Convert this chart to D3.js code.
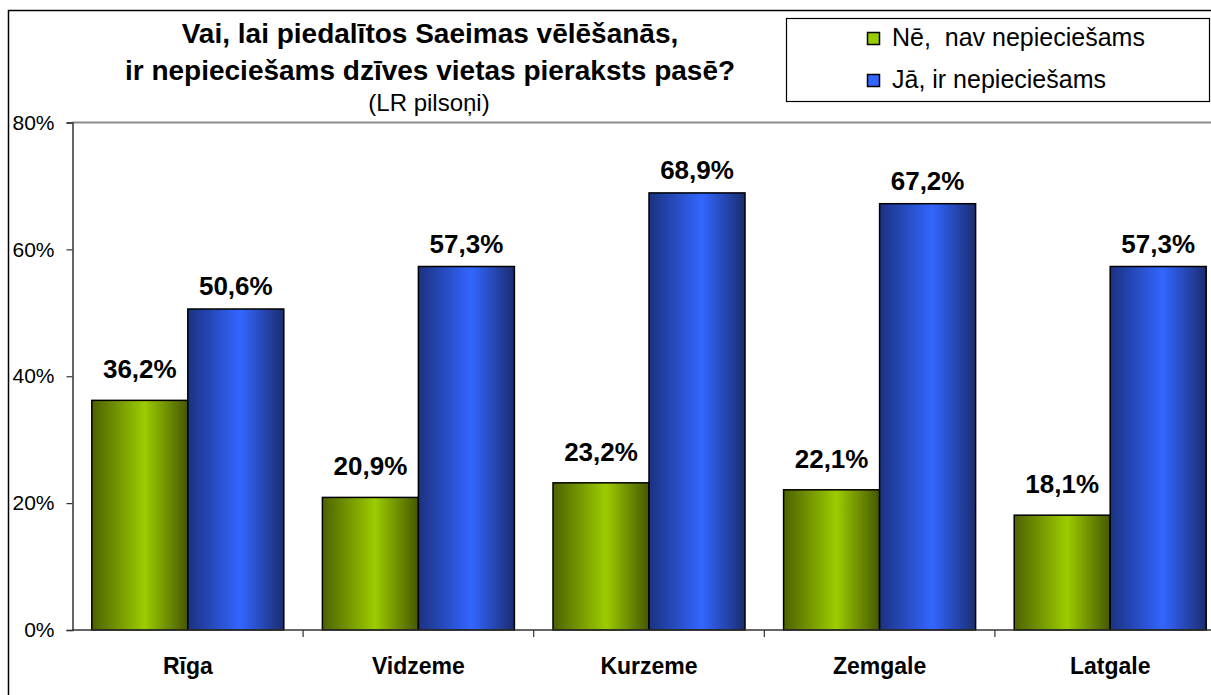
<!DOCTYPE html>
<html>
<head>
<meta charset="utf-8">
<script src="https://cdn.jsdelivr.net/npm/d3@7"></script>
<style>
  html, body { margin: 0; padding: 0; background: #fff; }
  svg text { font-family: "Liberation Sans", Arial, sans-serif; fill: #000; }
</style>
</head>
<body>
<div id="chart"></div>
<script>
// Chart data
const categories = ["Rīga", "Vidzeme", "Kurzeme", "Zemgale", "Latgale"];
const seriesNames = ["Nē,  nav nepieciešams", "Jā, ir nepieciešams"];
const neValues = [36.2, 20.9, 23.2, 22.1, 18.1];
const jaValues = [50.6, 57.3, 68.9, 67.2, 57.3];
const yTicks = [0, 20, 40, 60, 80];
const titleLines = ["Vai, lai piedalītos Saeimas vēlēšanās,", "ir nepieciešams dzīves vietas pieraksts pasē?"];
const subtitle = "(LR pilsoņi)";

const width = 1211;
const height = 695;
const plot = { left: 72.5, top: 122.5, bottom: 630, band: 230.6 };

const svg = d3.select("#chart")
    .append("svg")
    .attr("width", width)
    .attr("height", height);

// Gradients for the bars
const defs = svg.append("defs");
function addGradient(id, edgeL, mid, edgeR) {
    const grad = defs.append("linearGradient")
        .attr("id", id)
        .attr("x1", "0%").attr("x2", "100%")
        .attr("y1", "0%").attr("y2", "0%");
    grad.append("stop").attr("offset", "0%").attr("stop-color", edgeL);
    grad.append("stop").attr("offset", "55%").attr("stop-color", mid);
    grad.append("stop").attr("offset", "100%").attr("stop-color", edgeR);
}
addGradient("gradGreen", "#4d6200", "#9ccc00", "#465700");
addGradient("gradBlue", "#1b3282", "#3366ff", "#1a2d70");

const color = d3.scaleOrdinal()
    .domain(seriesNames)
    .range(["url(#gradGreen)", "url(#gradBlue)"]);
const swatch = d3.scaleOrdinal()
    .domain(seriesNames)
    .range(["#99cc00", "#3366ff"]);
// label gap above bar top, per series
const labelGap = d3.scaleOrdinal()
    .domain(seriesNames)
    .range([22, 14]);

// Outer chart border (right and bottom are cut off in the picture)
svg.append("path")
    .attr("d", `M8.5,${height} V10.5 H${width}`)
    .attr("fill", "none")
    .attr("stroke", "#000")
    .attr("stroke-width", 1.5);

// Scales
const y = d3.scaleLinear()
    .domain([0, 80])
    .range([plot.bottom, plot.top]);

const x0 = d3.scaleBand()
    .domain(categories)
    .range([plot.left, plot.left + plot.band * categories.length]);

const barW = 96;
const x1 = d3.scaleBand()
    .domain(seriesNames)
    .range([0, barW * 2]);

// Plot area top edge
svg.append("line")
    .attr("x1", plot.left).attr("x2", width)
    .attr("y1", y(80)).attr("y2", y(80))
    .attr("stroke", "#8c8c8c")
    .attr("stroke-width", 2);

// Y axis
const yAxis = svg.append("g")
    .attr("transform", `translate(${plot.left},0)`)
    .call(d3.axisLeft(y).tickValues(yTicks).tickSize(6).tickPadding(12)
        .tickFormat(d => d + "%"));
yAxis.select(".domain").attr("stroke", "#333").attr("stroke-width", 1.5);
yAxis.selectAll(".tick line").attr("stroke", "#333").attr("stroke-width", 1.2);
yAxis.selectAll("text")
    .style("font-size", "21px")
    .style("font-family", "'Liberation Sans', Arial, sans-serif")
    .attr("fill", "#000");

// Bars
const series = [neValues, jaValues];
const groups = svg.append("g").selectAll("g")
    .data(categories)
    .join("g")
    .attr("transform", d => `translate(${x0(d) + x0.bandwidth() / 2 - barW},0)`);

groups.selectAll("rect")
    .data((d, i) => seriesNames.map((s, k) => ({ key: s, value: series[k][i] })))
    .join("rect")
    .attr("x", d => x1(d.key))
    .attr("y", d => y(d.value))
    .attr("width", x1.bandwidth())
    .attr("height", d => y(0) - y(d.value))
    .attr("fill", d => color(d.key))
    .attr("stroke", "#000")
    .attr("stroke-width", 1.5);

// Value labels
const fmt = v => d3.format(".1f")(v).replace(".", ",") + "%";
groups.selectAll("text")
    .data((d, i) => seriesNames.map((s, k) => ({ key: s, value: series[k][i] })))
    .join("text")
    .attr("x", d => x1(d.key) + x1.bandwidth() / 2)
    .attr("y", d => y(d.value) - labelGap(d.key))
    .attr("text-anchor", "middle")
    .style("font-size", "26px")
    .style("font-weight", "bold")
    .text(d => fmt(d.value));

// X axis line and category ticks
svg.append("line")
    .attr("x1", plot.left).attr("x2", width)
    .attr("y1", plot.bottom).attr("y2", plot.bottom)
    .attr("stroke", "#333")
    .attr("stroke-width", 1.5);

svg.append("g").selectAll("line")
    .data(categories.slice(1))
    .join("line")
    .attr("x1", d => x0(d)).attr("x2", d => x0(d))
    .attr("y1", plot.bottom).attr("y2", plot.bottom + 7)
    .attr("stroke", "#333")
    .attr("stroke-width", 1.2);

svg.append("g").selectAll("text")
    .data(categories)
    .join("text")
    .attr("x", d => x0(d) + x0.bandwidth() / 2)
    .attr("y", 674)
    .attr("text-anchor", "middle")
    .style("font-size", "23px")
    .style("font-weight", "bold")
    .text(d => d);

// Title
svg.append("g").selectAll("text")
    .data(titleLines)
    .join("text")
    .attr("x", 430)
    .attr("y", (d, i) => 43 + i * 37)
    .attr("text-anchor", "middle")
    .style("font-size", "28px")
    .style("font-weight", "bold")
    .text(d => d);

svg.append("text")
    .attr("x", 429)
    .attr("y", 111)
    .attr("text-anchor", "middle")
    .style("font-size", "24px")
    .text(subtitle);

// Legend
svg.append("rect")
    .attr("x", 786.5).attr("y", 18.5)
    .attr("width", 423).attr("height", 83)
    .attr("fill", "#fff")
    .attr("stroke", "#000")
    .attr("stroke-width", 1.2);

const legend = svg.append("g").selectAll("g")
    .data(seriesNames)
    .join("g")
    .attr("transform", (d, i) => `translate(867,${46 + i * 42})`);

legend.append("rect")
    .attr("x", 0.5).attr("y", -13.5)
    .attr("width", 12).attr("height", 12)
    .attr("fill", d => swatch(d))
    .attr("stroke", "#000")
    .attr("stroke-width", 1.5);

legend.append("text")
    .attr("x", 25)
    .attr("y", 0)
    .style("font-size", "25px")
    .attr("xml:space", "preserve")
    .text(d => d);
</script>
</body>
</html>
